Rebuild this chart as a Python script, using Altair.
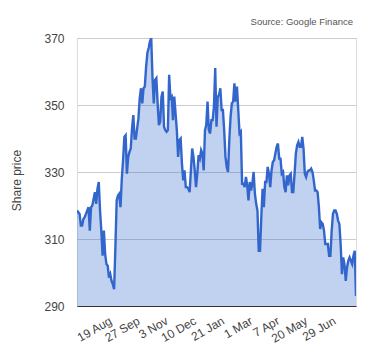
import altair as alt
import pandas as pd

# Share price readings, left to right (sampled across the year)
prices = [
    318.5, 318, 317.5, 314, 314, 316, 316.5, 317.5, 318.5, 319.5, 312.5, 319.5, 320, 322, 324,
    320.5, 325, 327, 318.5, 312.5, 305, 312.5, 305.5, 302.5, 302, 298.5, 299.5, 297.5, 296.5, 295,
    307.5, 321.5, 323, 323.5, 319.5,
    328, 333.5, 340.5, 341, 329.5, 334.5, 336, 337, 343, 347, 340, 340, 343, 346, 352, 355, 350.5,
    355, 355.5, 361.5, 365.5, 367, 369, 370, 358, 350.5, 357.5, 358, 350.5, 344, 345, 352.5, 354,
    343.5, 342.5, 342, 342.5, 359,
    352, 352.5, 345.5, 352.5, 347.5, 342.5, 334.5, 339.5, 340, 332.5, 327.5, 330.5, 325.5, 325.5,
    325, 324, 330.5, 337, 334.5, 330.5, 325.5, 329.5, 335, 334, 336.5, 335.5, 330.5, 342.5, 344,
    351, 342.5, 341.5, 345.5, 345.5, 349.5, 361, 343.5,
    352.5, 353, 355, 348.5, 348.5, 342.5, 334.5, 331.5, 330, 339.5, 346.5, 350.5, 351, 356.5, 351,
    355.5, 348.5, 341.5, 342, 326.5, 326.5, 325.5, 328.5, 326, 321.5, 327, 324.5, 326.5, 330,
    323.5, 320.5, 318.5, 306.5, 306.5, 316.5, 325, 319.5,
    327, 327, 331.5, 329.5, 325.5, 330.5, 333, 333.5, 335.5, 337.5, 338.5, 334, 334, 329.5, 330,
    325.5, 324, 329, 326, 329, 329.5, 324, 324, 329.5, 335.5, 338, 339, 337.5, 337.5, 340.5, 337,
    329.5, 328.5, 330, 330.5, 330.5,
    331, 330, 327.5, 324.5, 324.5, 324, 319.5, 313, 315, 314.5, 312.5, 308.5, 308.5, 308.5, 305,
    305, 312.5, 317.5, 318.5, 318.5, 317.5, 315.5, 314.5, 308.5, 299.5, 304.5, 302.5, 297.5, 301.5,
    303.5, 304.5, 303.5, 302.5, 305, 306.5, 293,
]

tick_labels = ["19 Aug", "27 Sep", "3 Nov", "10 Dec", "21 Jan", "1 Mar", "7 Apr", "20 May", "29 Jun"]
tick_index = [24, 46, 68, 90, 112, 134, 155, 177, 199]
y_ticks = [290, 310, 330, 350, 370]

df = pd.DataFrame({"idx": list(range(len(prices))), "price": prices})

expr = "''"
for i, lab in reversed(list(zip(tick_index, tick_labels))):
    expr = f"datum.value == {i} ? '{lab}' : ({expr})"

FONT = "Liberation Sans"
BLUE = "#3366CC"

x_enc = alt.X(
    "idx:Q",
    scale=alt.Scale(domain=[0, len(prices) - 1], nice=False, zero=False),
    axis=alt.Axis(
        values=tick_index, labelExpr=expr, title=None, grid=False, ticks=False,
        domain=True, domainColor="#333333", domainWidth=1,
        labelAngle=-30, labelAlign="right", labelBaseline="top", labelPadding=9,
        labelFont=FONT, labelFontSize=12, labelColor="#444444", labelOverlap=False,
        labelFlush=False,
    ),
)
y_enc = alt.Y(
    "price:Q",
    scale=alt.Scale(domain=[290, 370], nice=False, zero=False),
    axis=alt.Axis(
        values=y_ticks, title="Share price", grid=True, gridColor="#cccccc",
        domain=False, ticks=False, labelPadding=13,
        labelFont=FONT, labelFontSize=12, labelColor="#444444",
        titleFont=FONT, titleFontSize=12, titleFontWeight="normal", titleColor="#444444",
        titleX=-61, titleY=142, titleAlign="center", titleBaseline="middle",
    ),
)

base = alt.Chart(df)
area = base.mark_area(color=BLUE, opacity=0.3, clip=True).encode(
    x=x_enc, y=y_enc, y2=alt.datum(290)
)
line = base.mark_line(color=BLUE, strokeWidth=2.4, clip=True).encode(x=x_enc, y=y_enc)

chart = (
    alt.layer(area, line)
    .properties(
        width=279,
        height=268,
        autosize="none",
        padding={"left": 69, "top": 30, "right": 16, "bottom": 46},
        title=alt.TitleParams(
            "Source: Google Finance", anchor="end", font=FONT, fontSize=9.5,
            fontWeight="normal", color="#555555", offset=6, dx=-3,
        ),
    )
    .configure_view(stroke=None)
    .configure(background="white")
)

chart.save("out.html", embed_options={"renderer": "svg", "actions": False})
